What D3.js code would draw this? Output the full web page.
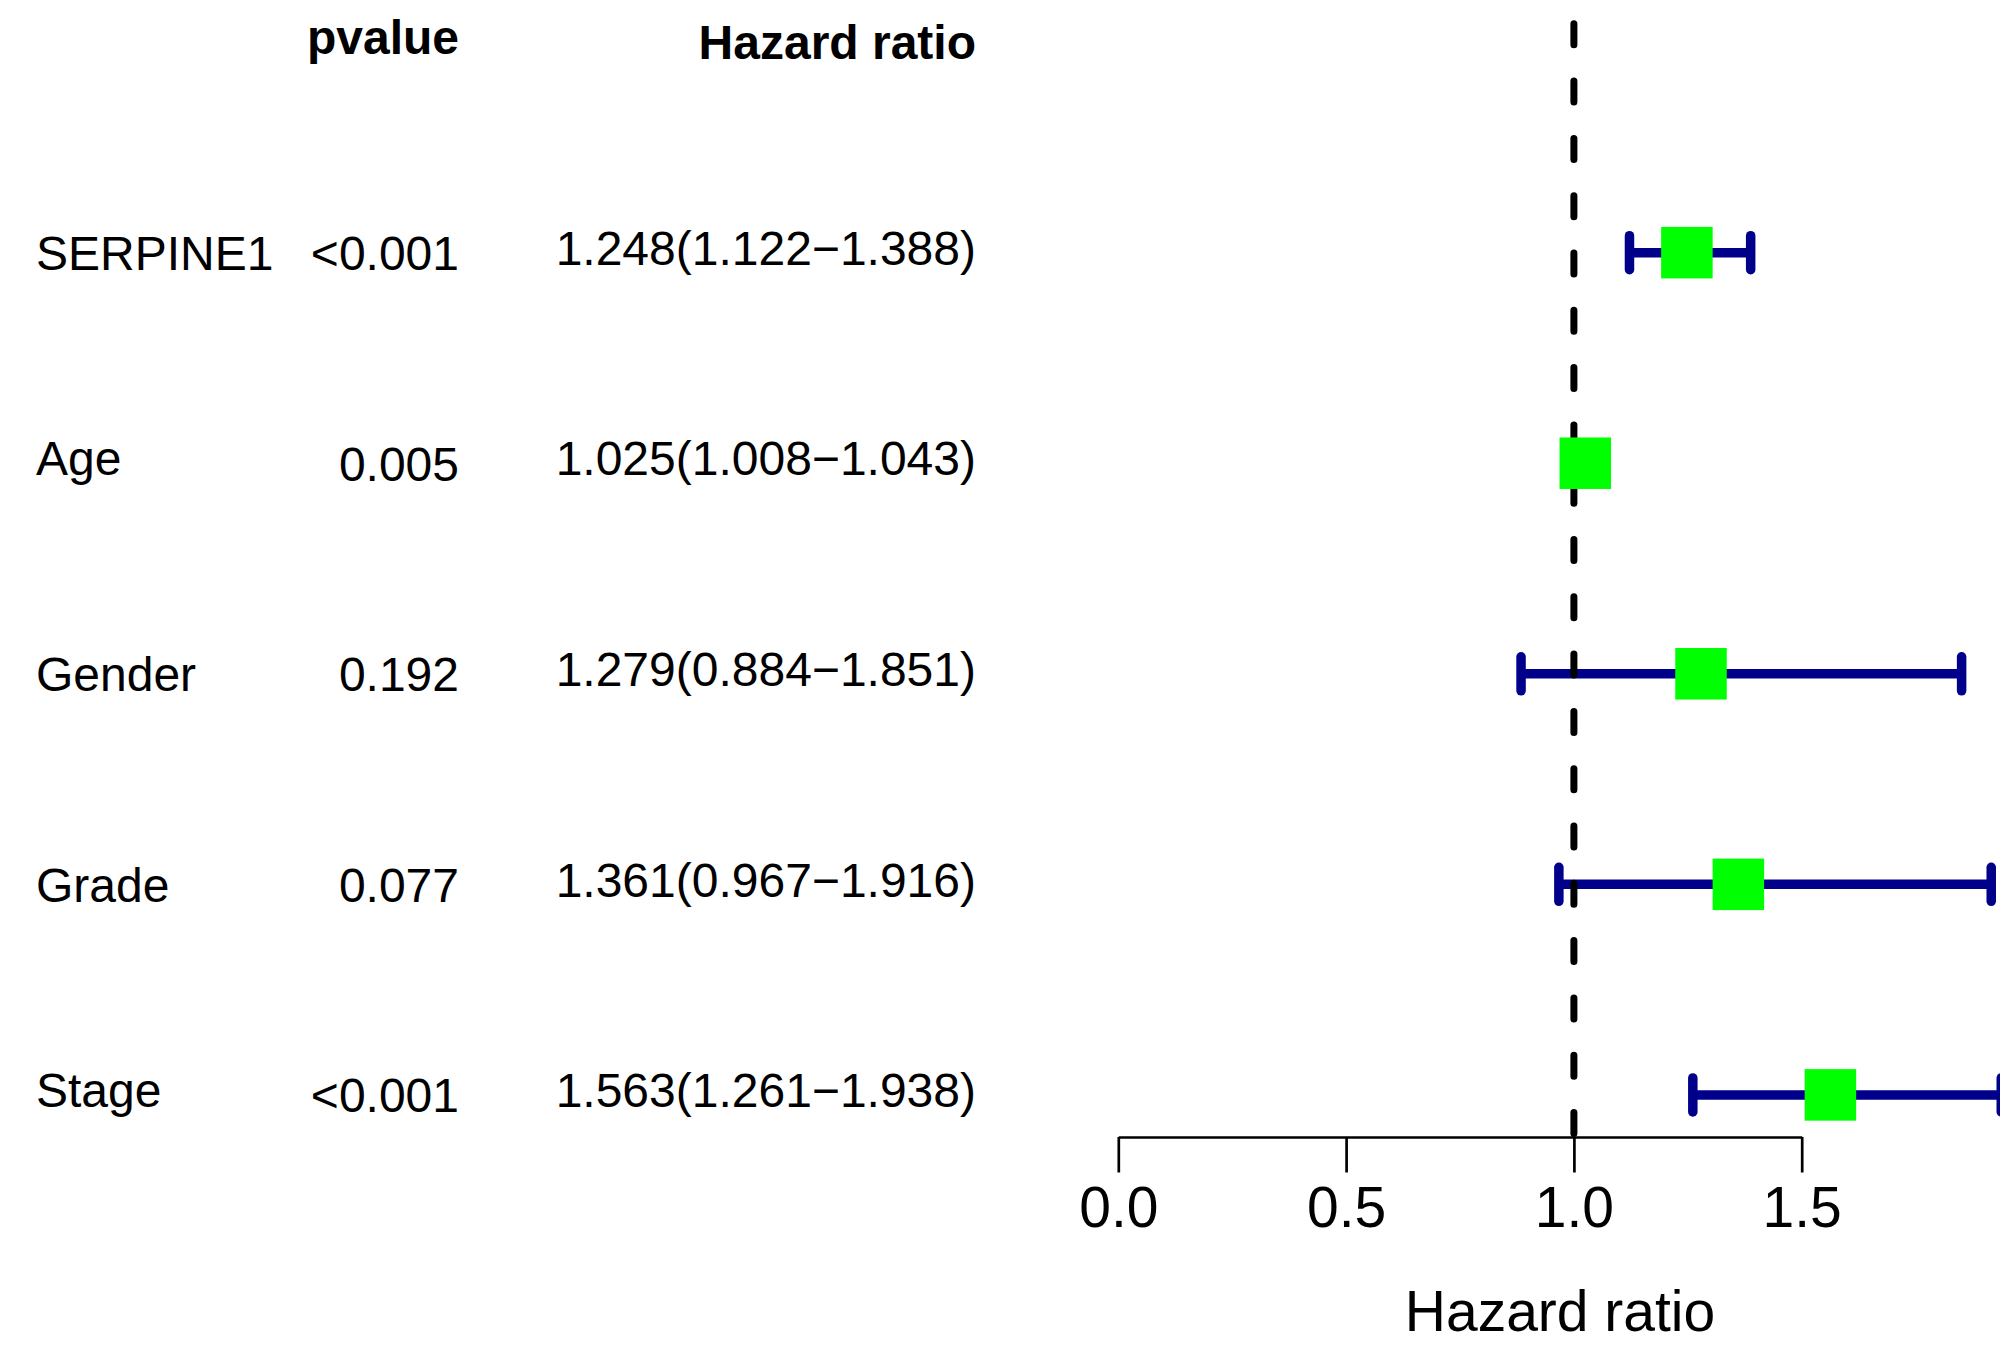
<!DOCTYPE html>
<html>
<head>
<meta charset="utf-8">
<script src="https://cdn.jsdelivr.net/npm/d3@7"></script>
<style>
	html, body { margin: 0; padding: 0; background: #fff; }
	svg { display: block; }
	text { font-family: "Liberation Sans", Arial, Helvetica, sans-serif; fill: #000; }
</style>
</head>
<body>
<div id="chart"></div>
<script>
// --- DATA --- \\
var labels = ["SERPINE1", "Age", "Gender", "Grade", "Stage"];
var pValues = ["<0.001", "0.005", "0.192", "0.077", "<0.001"];
var hrValues = [1.248, 1.025, 1.279, 1.361, 1.563];
var hrLow = [1.122, 1.008, 0.884, 0.967, 1.261];
var hrHigh = [1.388, 1.043, 1.851, 1.916, 1.938];
var tickValues = [0, 0.5, 1.0, 1.5];

var width = 2000, height = 1361
	, textSize = 48, axisTextSize = 57
	, n = labels.length;

var svg = d3.select("#chart").append("svg")
	.attr("width", width)
	.attr("height", height);

svg.append("rect")
	.attr("width", width).attr("height", height)
	.attr("fill", "#fff");

// rows go n..1 from top, header sits at n+1 (R style, ylim padded 4%)
var y = d3.scaleLinear().domain([0.8, n + 1.2]).range([1137, 0]);
var x = d3.scaleLinear().domain([0, 1.5]).range([1118.3, 1801.7]);

var rows = labels.map(function (lab, i) {
	return {
		label: lab
		, p: pValues[i]
		, hr: hrValues[i]
		, low: hrLow[i]
		, high: hrHigh[i]
		, text: hrValues[i].toFixed(3) + "(" + hrLow[i].toFixed(3) + "\u2212" + hrHigh[i].toFixed(3) + ")"
		, pos: n - i
	};
});

// R centres text on its ink box, so strings with descenders sit higher
function vshift(str) {
	return /[gjpqy()]/.test(str) ? "0.255em" : "0.36em";
}

// --- TEXT TABLE --- \\
var table = svg.append("g").attr("class", "table").attr("font-size", textSize);

table.selectAll(".lab").data(rows).enter().append("text")
	.attr("class", "lab")
	.attr("x", 36)
	.attr("y", function (d) { return y(d.pos); })
	.attr("dy", function (d) { return vshift(d.label); })
	.text(function (d) { return d.label; });

table.selectAll(".pv").data(rows).enter().append("text")
	.attr("class", "pv")
	.attr("x", 459)
	.attr("y", function (d) { return y(d.pos); })
	.attr("dy", function (d) { return vshift(d.p); })
	.attr("text-anchor", "end")
	.text(function (d) { return d.p; });

table.selectAll(".hrt").data(rows).enter().append("text")
	.attr("class", "hrt")
	.attr("x", 976)
	.attr("y", function (d) { return y(d.pos); })
	.attr("dy", function (d) { return vshift(d.text); })
	.attr("text-anchor", "end")
	.text(function (d) { return d.text; });

// headers
table.append("text")
	.attr("x", 459).attr("y", y(n + 1))
	.attr("dy", vshift("pvalue"))
	.attr("text-anchor", "end")
	.attr("font-weight", "bold")
	.text("pvalue");
table.append("text")
	.attr("x", 976).attr("y", y(n + 1))
	.attr("dy", vshift("Hazard ratio"))
	.attr("text-anchor", "end")
	.attr("font-weight", "bold")
	.text("Hazard ratio");

// --- FOREST --- \\
var barColor = "#00008B", boxColor = "#00FF00"
	, barWidth = 9.5, capHalf = 17, boxSide = 51.5;

var forest = svg.append("g").attr("class", "forest");

// CI lines with end caps (arrows angle=90 in R)
var bars = forest.selectAll(".ci").data(rows).enter().append("g")
	.attr("class", "ci")
	.attr("stroke", barColor)
	.attr("stroke-width", barWidth);

bars.append("line")
	.attr("x1", function (d) { return x(d.low); })
	.attr("x2", function (d) { return x(d.high); })
	.attr("y1", function (d) { return y(d.pos); })
	.attr("y2", function (d) { return y(d.pos); });

["low", "high"].forEach(function (k) {
	bars.append("line")
		.attr("stroke-linecap", "round")
		.attr("x1", function (d) { return x(d[k]); })
		.attr("x2", function (d) { return x(d[k]); })
		.attr("y1", function (d) { return y(d.pos) - capHalf; })
		.attr("y2", function (d) { return y(d.pos) + capHalf; });
});

// reference line at HR = 1, drawn bottom-up like R does
forest.append("line")
	.attr("x1", x(1)).attr("x2", x(1))
	.attr("y1", y(0.8) - 3.5).attr("y2", y(n + 1.2))
	.attr("stroke", "#000")
	.attr("stroke-width", 7)
	.attr("stroke-linecap", "round")
	.attr("stroke-dasharray", "21,36.3");

// hazard ratio boxes
forest.selectAll(".box").data(rows).enter().append("rect")
	.attr("class", "box")
	.attr("x", function (d) { return x(d.hr) - boxSide / 2; })
	.attr("y", function (d) { return y(d.pos) - boxSide / 2; })
	.attr("width", boxSide)
	.attr("height", boxSide)
	.attr("fill", boxColor);

// --- AXIS --- \\
var axis = svg.append("g")
	.attr("class", "x-axis")
	.attr("transform", "translate(0," + y(0.8) + ")")
	.call(d3.axisBottom(x)
		.tickValues(tickValues)
		.tickFormat(d3.format(".1f"))
		.tickSize(35.5)
		.tickSizeOuter(0)
		.tickPadding(14));

axis.select(".domain").attr("stroke", "#000").attr("stroke-width", 2.7);
axis.selectAll(".tick line").attr("stroke", "#000").attr("stroke-width", 2.7);
axis.selectAll(".tick text")
	.attr("font-size", axisTextSize)
	.attr("font-family", "'Liberation Sans', Arial, Helvetica, sans-serif")
	.attr("fill", "#000");

svg.append("text")
	.attr("x", 1560)
	.attr("y", 1330.5)
	.attr("text-anchor", "middle")
	.attr("font-size", axisTextSize)
	.text("Hazard ratio");
</script>
</body>
</html>
